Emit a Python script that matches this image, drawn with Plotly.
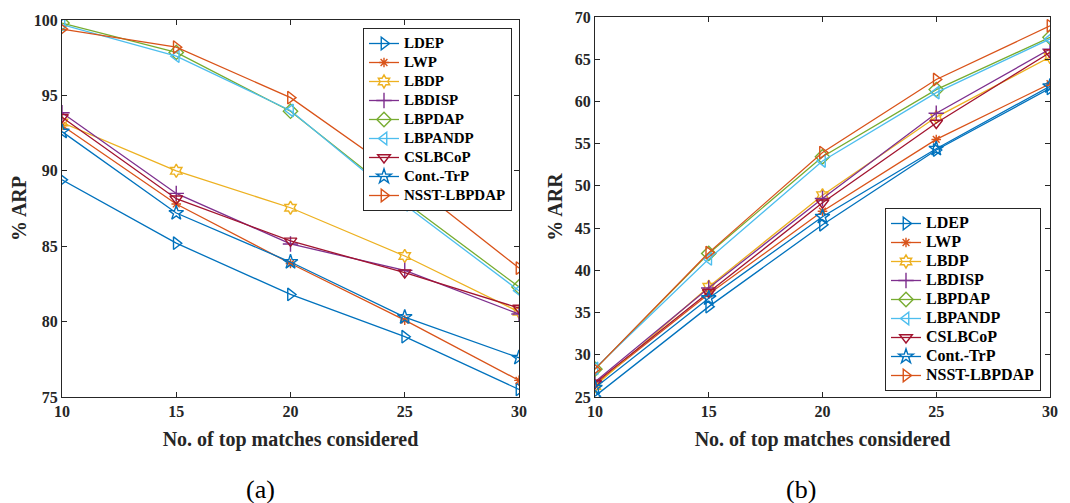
import plotly.graph_objects as go

x_vals = [10, 15, 20, 25, 30]
methods = ["LDEP", "LWP", "LBDP", "LBDISP", "LBPDAP", "LBPANDP", "CSLBCoP", "Cont.-TrP", "NSST-LBPDAP"]
colors = ["#0072BD", "#D95319", "#EDB120", "#7E2F8E", "#77AC30", "#4DBEEE", "#A2142F", "#0072BD", "#D95319"]
symbols = ["triangle-right-open", "asterisk-open", "hexagram-open", "cross-thin-open", "diamond-open",
           "triangle-left-open", "triangle-down-open", "star-open", "triangle-right-open"]
msizes = [11, 8, 10, 11, 11, 11, 11, 11, 11]

# (a) ARP
arp_LDEP = [89.4, 85.2, 81.8, 79.0, 75.5]
arp_LWP = [93.0, 87.8, 83.85, 80.1, 76.1]
arp_LBDP = [93.2, 90.0, 87.55, 84.35, 80.65]
arp_LBDISP = [93.85, 88.5, 85.15, 83.4, 80.5]
arp_LBPDAP = [99.8, 97.85, 93.95, 87.95, 82.3]
arp_LBPANDP = [99.7, 97.6, 94.0, 87.75, 82.05]
arp_CSLBCoP = [93.55, 88.15, 85.35, 83.25, 80.9]
arp_ContTrP = [92.6, 87.2, 83.95, 80.3, 77.6]
arp_NSST = [99.4, 98.2, 94.85, 89.5, 83.55]

# (b) ARR
arr_LDEP = [25.1, 35.7, 45.4, 54.25, 61.55]
arr_LWP = [26.5, 37.2, 47.0, 55.5, 62.1]
arr_LBDP = [26.3, 38.05, 48.9, 58.15, 65.25]
arr_LBDISP = [26.8, 37.9, 48.5, 58.6, 66.2]
arr_LBPDAP = [28.3, 42.0, 53.45, 61.4, 67.6]
arr_LBPANDP = [28.4, 41.35, 52.95, 61.05, 67.4]
arr_CSLBCoP = [26.65, 37.4, 48.0, 57.45, 65.8]
arr_ContTrP = [26.1, 36.7, 46.35, 54.4, 61.8]
arr_NSST = [28.3, 42.1, 53.95, 62.6, 68.95]

arp = [arp_LDEP, arp_LWP, arp_LBDP, arp_LBDISP, arp_LBPDAP, arp_LBPANDP, arp_CSLBCoP, arp_ContTrP, arp_NSST]
arr = [arr_LDEP, arr_LWP, arr_LBDP, arr_LBDISP, arr_LBPDAP, arr_LBPANDP, arr_CSLBCoP, arr_ContTrP, arr_NSST]

FONT = "Liberation Serif"
AX = "#262626"

def legend_name(m, size):
    return "<span style='font-size:%dpx'>%s</span>" % (size, m)

fig = go.Figure()
for i, m in enumerate(methods):
    fig.add_trace(go.Scatter(
        x=x_vals, y=arp[i], name=legend_name(m, 15), mode="lines+markers",
        line=dict(color=colors[i], width=1.3),
        marker=dict(symbol=symbols[i], size=msizes[i], color=colors[i], line=dict(color=colors[i], width=1.4)),
        xaxis="x", yaxis="y", legend="legend"))
for i, m in enumerate(methods):
    fig.add_trace(go.Scatter(
        x=x_vals, y=arr[i], name=legend_name(m, 16), mode="lines+markers",
        line=dict(color=colors[i], width=1.3),
        marker=dict(symbol=symbols[i], size=msizes[i], color=colors[i], line=dict(color=colors[i], width=1.4)),
        xaxis="x2", yaxis="y2", legend="legend2"))

# page body has an 8px margin in the browser
OFF = 8
W, H = 1070 - OFF, 503 - OFF
def px_x(p): return (p - OFF) / W
def px_y(p): return (H - (p - OFF)) / H

tickfont = dict(family=FONT, size=16, color=AX, weight="bold")
titlefont = dict(family=FONT, size=20, color=AX, weight="bold")
common = dict(showline=True, linecolor=AX, linewidth=1, mirror="ticks", ticks="inside", ticklen=5,
              tickcolor=AX, showgrid=False, zeroline=False, tickfont=tickfont, automargin=False,
              ticklabeloverflow="allow")

legfont = dict(family=FONT, size=11.5, color="black", weight="bold")

fig.update_layout(
    width=W, height=H,
    margin=dict(l=0, r=0, t=0, b=0, autoexpand=False),
    paper_bgcolor="white", plot_bgcolor="white",
    xaxis=dict(domain=[px_x(62), px_x(519)], range=[10, 30], tickvals=x_vals, anchor="y",
               title=dict(text="No. of top matches considered", font=titlefont, standoff=12), **common),
    yaxis=dict(domain=[px_y(397), px_y(20)], range=[75, 100], dtick=5, anchor="x",
               title=dict(text="% ARP", font=titlefont, standoff=6), **common),
    xaxis2=dict(domain=[px_x(595), px_x(1050)], range=[10, 30], tickvals=x_vals, anchor="y2",
                title=dict(text="No. of top matches considered", font=titlefont, standoff=12), **common),
    yaxis2=dict(domain=[px_y(397), px_y(17)], range=[25, 70], dtick=5, anchor="x2",
                title=dict(text="% ARR", font=titlefont, standoff=6), **common),
    legend=dict(x=px_x(363), y=px_y(28), xanchor="left", yanchor="top", bgcolor="white",
                bordercolor=AX, borderwidth=1, font=legfont),
    legend2=dict(x=px_x(885), y=px_y(208), xanchor="left", yanchor="top", bgcolor="white",
                 bordercolor=AX, borderwidth=1, font=legfont),
    annotations=[
        dict(text="(a)", x=px_x(260), y=px_y(489), xref="paper", yref="paper", showarrow=False,
             font=dict(family=FONT, size=26, color="black"), xanchor="center", yanchor="middle"),
        dict(text="(b)", x=px_x(801), y=px_y(489), xref="paper", yref="paper", showarrow=False,
             font=dict(family=FONT, size=26, color="black"), xanchor="center", yanchor="middle"),
    ],
)

fig.write_html("out.html")
